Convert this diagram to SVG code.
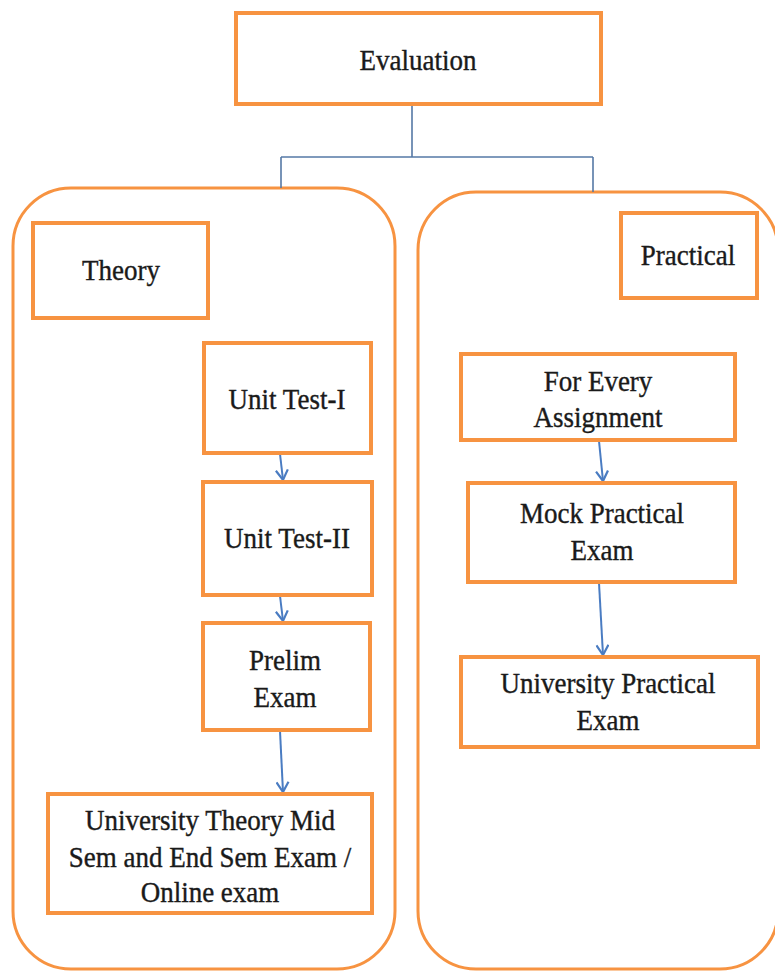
<svg xmlns="http://www.w3.org/2000/svg" width="775" height="972" viewBox="0 0 775 972">
<defs>
<style>
.box{fill:#fff;stroke:#F79341;stroke-width:4}
.cont{fill:none;stroke:#F79341;stroke-width:3}
.t{font-family:'Liberation Serif','Times New Roman',serif;font-size:27px;fill:#1a1a1a;stroke:#1a1a1a;stroke-width:0.35;text-anchor:middle}
.tree{fill:none;stroke:#5679A6;stroke-width:1.6}
.arr{fill:none;stroke:#4A7CC2;stroke-width:2;marker-end:url(#ah)}
</style>
<marker id="ah" viewBox="0 0 14 14" refX="12" refY="7" markerWidth="14" markerHeight="14" markerUnits="userSpaceOnUse" orient="auto">
<path d="M2,1 L12,7 L2,13" fill="none" stroke="#4A7CC2" stroke-width="2.2"/>
</marker>
</defs>
<rect width="775" height="972" fill="#fff"/>
<g id="containers">
<rect id="theory-container" class="cont" x="13" y="188" width="382" height="781" rx="58" ry="58"/>
<rect id="practical-container" class="cont" x="418" y="192" width="360" height="777" rx="58" ry="58"/>
</g>
<g id="connectors">
<path class="tree" d="M412,104 V157 M281,157 H593 M281,157 V188 M593,157 V192"/>
<path class="arr" d="M280,454 L283,480"/>
<path class="arr" d="M280,596 L283,621"/>
<path class="arr" d="M280,731 L283,792"/>
<path class="arr" d="M599,441 L603,481"/>
<path class="arr" d="M599,583 L603,655"/>
</g>
<g id="evaluation">
<rect class="box" x="236" y="13" width="365" height="91"/>
<text class="t" transform="translate(418,70) scale(1,1.1)">Evaluation</text>
</g>
<g id="theory">
<rect class="box" x="33" y="223" width="175" height="95"/>
<text class="t" transform="translate(121,280) scale(1,1.1)">Theory</text>
</g>
<g id="unit-test-1">
<rect class="box" x="204" y="343" width="167" height="110"/>
<text class="t" transform="translate(287,409) scale(1,1.1)">Unit Test-I</text>
</g>
<g id="unit-test-2">
<rect class="box" x="203" y="482" width="169" height="113"/>
<text class="t" transform="translate(287,548) scale(1,1.1)">Unit Test-II</text>
</g>
<g id="prelim">
<rect class="box" x="203" y="623" width="167" height="107"/>
<text class="t" transform="translate(285,670) scale(1,1.1)">Prelim</text>
<text class="t" transform="translate(285,707) scale(1,1.1)">Exam</text>
</g>
<g id="university-theory">
<rect class="box" x="48" y="794" width="324" height="119"/>
<text class="t" transform="translate(210,830) scale(1,1.1)">University Theory Mid</text>
<text class="t" transform="translate(210,867) scale(1,1.1)">Sem and End Sem Exam /</text>
<text class="t" transform="translate(210,902) scale(1,1.1)">Online exam</text>
</g>
<g id="practical">
<rect class="box" x="621" y="213" width="136" height="85"/>
<text class="t" transform="translate(688,265) scale(1,1.1)">Practical</text>
</g>
<g id="for-every-assignment">
<rect class="box" x="461" y="354" width="274" height="86"/>
<text class="t" transform="translate(598,391) scale(1,1.1)">For Every</text>
<text class="t" transform="translate(598,427) scale(1,1.1)">Assignment</text>
</g>
<g id="mock-practical">
<rect class="box" x="468" y="483" width="267" height="99"/>
<text class="t" transform="translate(602,523) scale(1,1.1)">Mock Practical</text>
<text class="t" transform="translate(602,560) scale(1,1.1)">Exam</text>
</g>
<g id="university-practical">
<rect class="box" x="461" y="657" width="297" height="90"/>
<text class="t" transform="translate(608,693) scale(1,1.1)">University Practical</text>
<text class="t" transform="translate(608,730) scale(1,1.1)">Exam</text>
</g>
</svg>
